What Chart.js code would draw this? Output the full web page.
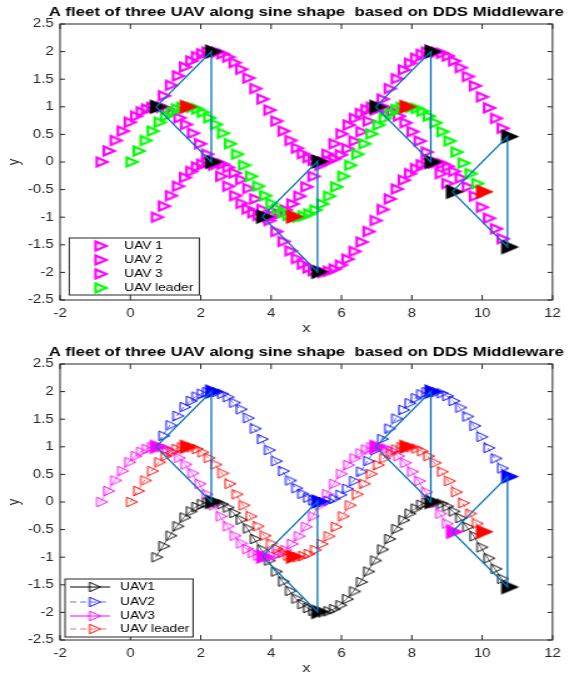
<!DOCTYPE html>
<html>
<head>
<meta charset="utf-8">
<script src="https://cdn.jsdelivr.net/npm/chart.js@4.4.1/dist/chart.umd.min.js"></script>
<style>
  html, body { margin: 0; padding: 0; background: #fff; overflow: hidden; }
  body { width: 569px; height: 673px; position: relative; }
  canvas { position: absolute; left: 0; transform: scaleX(1.2505); transform-origin: 0 0; }
  #topChart { top: 0; }
  #bottomChart { top: 340px; }
</style>
</head>
<body>
<canvas id="topChart" width="455" height="340"></canvas>
<canvas id="bottomChart" width="455" height="340"></canvas>
<script>
const titleText = 'A fleet of three UAV along sine shape  based on DDS Middleware';
const xTicks = [-2, 0, 2, 4, 6, 8, 10, 12];
const yTicks = [-2.5, -2, -1.5, -1, -0.5, 0, 0.5, 1, 1.5, 2, 2.5];
const topNames = ['UAV 1', 'UAV 2', 'UAV 3', 'UAV leader'];
const bottomNames = ['UAV1', 'UAV2', 'UAV3', 'UAV leader'];

// leader track
const leaderX = [0, 0.2, 0.4, 0.6, 0.8, 0.98, 1.14, 1.29, 1.44, 1.58,
  1.72, 1.87, 2.03, 2.21, 2.4, 2.6, 2.8, 3.0, 3.2, 3.4, 3.6, 3.8, 3.98, 4.15, 4.31, 4.46, 4.6,
  4.74, 4.89, 5.05, 5.23, 5.42, 5.62, 5.82, 6.02, 6.22, 6.42, 6.62, 6.82, 7.02, 7.2, 7.37, 7.53, 7.68, 7.82,
  7.96, 8.11, 8.27, 8.45, 8.64, 8.84, 9.04, 9.24, 9.44, 9.64, 9.83, 10.0];
const leaderY = [0, 0.20, 0.39, 0.56, 0.72, 0.83, 0.91, 0.96, 0.99, 1.00,
  0.99, 0.96, 0.90, 0.80, 0.68, 0.52, 0.33, 0.14, -0.06, -0.26, -0.44, -0.61, -0.75, -0.85, -0.92, -0.97, -0.99,
  -1.00, -0.98, -0.94, -0.87, -0.76, -0.62, -0.45, -0.26, -0.06, 0.14, 0.33, 0.51, 0.67, 0.79, 0.88, 0.95, 0.99, 1.00,
  0.99, 0.97, 0.92, 0.83, 0.71, 0.55, 0.38, 0.18, -0.02, -0.21, -0.39, -0.54];

// UAV1 and UAV2 fly at the same x
const uav12X = [0.72, 0.92, 1.12, 1.32, 1.52, 1.70, 1.86, 2.01, 2.16, 2.30,
  2.44, 2.59, 2.75, 2.93, 3.12, 3.32, 3.52, 3.72, 3.92, 4.12, 4.32, 4.52, 4.70, 4.87, 5.03, 5.18, 5.32,
  5.46, 5.61, 5.77, 5.95, 6.14, 6.34, 6.54, 6.74, 6.94, 7.14, 7.34, 7.54, 7.74, 7.92, 8.09, 8.25, 8.40, 8.54,
  8.68, 8.83, 8.99, 9.17, 9.36, 9.56, 9.76, 9.96, 10.16, 10.36, 10.55, 10.72];
const uav1Y = [-1.00, -0.80, -0.61, -0.44, -0.28, -0.17, -0.09, -0.04, -0.01, 0.00,
  -0.01, -0.04, -0.10, -0.20, -0.32, -0.48, -0.67, -0.86, -1.06, -1.26, -1.44, -1.61, -1.75, -1.85, -1.92, -1.97, -1.99,
  -2.00, -1.98, -1.94, -1.87, -1.76, -1.62, -1.45, -1.26, -1.06, -0.86, -0.67, -0.49, -0.33, -0.21, -0.12, -0.05, -0.01, 0.00,
  -0.01, -0.03, -0.08, -0.17, -0.29, -0.45, -0.62, -0.82, -1.02, -1.21, -1.39, -1.54];
const uav2Y = [1.00, 1.20, 1.39, 1.56, 1.72, 1.83, 1.91, 1.96, 1.99, 2.00,
  1.99, 1.96, 1.90, 1.80, 1.68, 1.52, 1.33, 1.14, 0.94, 0.74, 0.56, 0.39, 0.25, 0.15, 0.08, 0.03, 0.01,
  0.00, 0.02, 0.06, 0.13, 0.24, 0.38, 0.55, 0.74, 0.94, 1.14, 1.33, 1.51, 1.67, 1.79, 1.88, 1.95, 1.99, 2.00,
  1.99, 1.97, 1.92, 1.83, 1.71, 1.55, 1.38, 1.18, 0.98, 0.79, 0.61, 0.46];
const uav3X = [-0.85, -0.65, -0.45, -0.25, -0.05, 0.13, 0.29, 0.44, 0.59, 0.73,
  0.87, 1.02, 1.18, 1.36, 1.55, 1.75, 1.95, 2.15, 2.35, 2.55, 2.75, 2.95, 3.13, 3.30, 3.46, 3.61, 3.75,
  3.89, 4.04, 4.20, 4.38, 4.57, 4.77, 4.97, 5.17, 5.37, 5.57, 5.77, 5.97, 6.17, 6.35, 6.52, 6.68, 6.83, 6.97,
  7.11, 7.26, 7.42, 7.60, 7.79, 7.99, 8.19, 8.39, 8.59, 8.79, 8.98, 9.15];
const uav3Y = leaderY; // same heights as the leader, shifted back

// formation snapshots (big filled markers + triangle)
const snapLeaderX = [1.58, 4.6, 7.82, 10.0];
const snapLeaderY = [1.00, -0.99, 1.00, -0.54];
const snapUavX = [2.30, 5.32, 8.54, 10.72];
const snapUav1Y = [0.00, -1.99, 0.00, -1.54];
const snapUav2Y = [2.00, 0.01, 2.00, 0.46];
const snapUav3X = [0.73, 3.75, 6.97, 9.15];
const snapUav3Y = [1.00, -0.99, 1.00, -0.54];

const FONT = "'Liberation Sans', Arial, Helvetica, sans-serif";
const MAG = '#ff00ff', GRN = '#00ff00', BLU = '#0000ff', RED = '#ff0000', BLK = '#000000', LINE = '#0072bd';
const AXIS = '#262626';

function pts(xs, ys) {
  return xs.map((x, i) => ({ x: x, y: ys[i] }));
}

// right-pointing triangle marker, data point sits ~1/3 from the back edge
function tri(color, filled, w, h, lw) {
  const back = w * 0.35, front = w * 0.65, m = 5;
  const c = document.createElement('canvas');
  c.width = Math.ceil(2 * (front + lw + m));
  c.height = Math.ceil(h + 2 * (lw + m));
  const g = c.getContext('2d');
  const cx = c.width / 2, cy = c.height / 2;
  g.beginPath();
  g.moveTo(cx - back, cy - h / 2);
  g.lineTo(cx + front, cy);
  g.lineTo(cx - back, cy + h / 2);
  g.closePath();
  if (filled) {
    g.fillStyle = color;
    g.fill();
  } else {
    g.strokeStyle = color;
    g.lineWidth = lw;
    g.lineJoin = 'miter';
    g.stroke();
  }
  return c;
}

const thickMag = tri(MAG, false, 8.5, 9, 2.2);
const thickGrn = tri(GRN, false, 8.5, 9, 2.2);
const thinBlk = tri(BLK, false, 8.6, 9.5, 1);
const thinBlu = tri(BLU, false, 8.6, 9.5, 1);
const thinMag = tri(MAG, false, 8.6, 9.5, 1);
const thinRed = tri(RED, false, 8.6, 9.5, 1);
const bigBlk = tri(BLK, true, 14.4, 15, 0);
const bigRed = tri(RED, true, 14.4, 15, 0);
const bigBlu = tri(BLU, true, 14.4, 15, 0);
const bigMag = tri(MAG, true, 14.4, 15, 0);

function formation() {
  return snapUavX.map((_, i) => ({
    data: pts([snapUav3X[i], snapUavX[i], snapUavX[i], snapUav3X[i]],
              [snapUav3Y[i], snapUav2Y[i], snapUav1Y[i], snapUav3Y[i]]),
    showLine: true, borderColor: LINE, borderWidth: 1.3, pointRadius: 0
  }));
}

function marks(xs, ys, img, extra) {
  return Object.assign({ data: pts(xs, ys), pointStyle: img, pointRadius: 5, showLine: false }, extra || {});
}

function scales() {
  const tickFont = { family: FONT, size: 12 };
  return {
    x: {
      type: 'linear', min: -2, max: 12,
      afterBuildTicks: s => { s.ticks = xTicks.map(v => ({ value: v })); },
      afterFit: s => { s.height = 40; },
      grid: { display: false, drawTicks: false },
      border: { display: false },
      ticks: { font: tickFont, color: AXIS, padding: 6.5, maxRotation: 0, autoSkip: false, callback: v => String(v) },
      title: { display: true, text: 'x', font: { family: FONT, size: 13 }, color: AXIS, padding: { top: 0, bottom: 4.2 } }
    },
    y: {
      type: 'linear', min: -2.5, max: 2.5,
      afterBuildTicks: s => { s.ticks = yTicks.map(v => ({ value: v })); },
      afterFit: s => { s.width = 48; },
      grid: { display: false, drawTicks: false },
      border: { display: false },
      ticks: { font: tickFont, color: AXIS, padding: 5, autoSkip: false, callback: v => String(v) },
      title: { display: true, text: 'y', font: { family: FONT, size: 13 }, color: AXIS, padding: { top: 3.4, bottom: 0 } }
    }
  };
}

// matlab style box with inward ticks
const frame = {
  id: 'frame',
  afterDatasetsDraw(chart) {
    const { ctx, chartArea: a, scales: { x, y } } = chart;
    ctx.save();
    ctx.strokeStyle = AXIS;
    ctx.lineWidth = 1;
    ctx.strokeRect(a.left, a.top, a.right - a.left, a.bottom - a.top);
    ctx.beginPath();
    xTicks.forEach(v => {
      const px = x.getPixelForValue(v);
      ctx.moveTo(px, a.bottom); ctx.lineTo(px, a.bottom - 5);
      ctx.moveTo(px, a.top); ctx.lineTo(px, a.top + 5);
    });
    yTicks.forEach(v => {
      const py = y.getPixelForValue(v);
      ctx.moveTo(a.left, py); ctx.lineTo(a.left + 4, py);
      ctx.moveTo(a.right, py); ctx.lineTo(a.right - 4, py);
    });
    ctx.stroke();
    ctx.restore();
  }
};

function decor(opt) {
  return {
    id: 'decor',
    afterDraw(chart) {
      const { ctx, chartArea: a } = chart;
      ctx.save();
      ctx.fillStyle = '#000';
      ctx.font = 'bold 13.4px ' + FONT;
      ctx.textAlign = 'center';
      ctx.textBaseline = 'middle';
      ctx.fillText(titleText, (a.left + a.right) / 2, 12);

      const b = opt.box;
      ctx.fillStyle = '#fff';
      ctx.fillRect(b[0], b[1], b[2] - b[0], b[3] - b[1]);
      ctx.strokeStyle = AXIS;
      ctx.lineWidth = 1;
      ctx.strokeRect(b[0], b[1], b[2] - b[0], b[3] - b[1]);

      ctx.font = '11px ' + FONT;
      ctx.textAlign = 'left';
      opt.names.forEach((name, i) => {
        const ry = opt.rows[i];
        if (opt.lineX) {
          ctx.strokeStyle = opt.colors[i];
          ctx.lineWidth = 1;
          ctx.setLineDash(opt.dashes[i]);
          ctx.beginPath();
          ctx.moveTo(opt.lineX[0], ry);
          ctx.lineTo(opt.lineX[1], ry);
          ctx.stroke();
          ctx.setLineDash([]);
        }
        const img = opt.imgs[i];
        ctx.drawImage(img, opt.markerX - img.width / 2, ry - img.height / 2);
        ctx.fillStyle = '#000';
        ctx.fillText(name, opt.textX, ry);
      });
      ctx.restore();
    }
  };
}

const common = {
  responsive: false,
  devicePixelRatio: 1,
  animation: false,
  events: [],
  layout: { padding: { left: 0, right: 10.4, top: 24, bottom: 0 } },
  plugins: { legend: { display: false }, tooltip: { enabled: false }, title: { display: false } }
};

new Chart(document.getElementById('topChart'), {
  type: 'scatter',
  data: {
    datasets: [
      ...formation(),
      marks(snapLeaderX, snapLeaderY, bigRed),
      marks(snapUav3X, snapUav3Y, bigBlk),
      marks(snapUavX, snapUav2Y, bigBlk),
      marks(snapUavX, snapUav1Y, bigBlk),
      marks(leaderX, leaderY, thickGrn),
      marks(uav3X, uav3Y, thickMag),
      marks(uav12X, uav2Y, thickMag),
      marks(uav12X, uav1Y, thickMag)
    ]
  },
  options: Object.assign({}, common, { scales: scales() }),
  plugins: [frame, decor({
    names: topNames,
    imgs: [thickMag, thickMag, thickMag, thickGrn],
    box: [55.4, 238, 159.4, 295],
    rows: [246, 260, 274, 288],
    markerX: 79.4, textX: 99.2
  })]
});

new Chart(document.getElementById('bottomChart'), {
  type: 'scatter',
  data: {
    datasets: [
      ...formation(),
      marks(snapLeaderX, snapLeaderY, bigRed),
      marks(snapUav3X, snapUav3Y, bigMag),
      marks(snapUavX, snapUav2Y, bigBlu),
      marks(snapUavX, snapUav1Y, bigBlk),
      marks(leaderX, leaderY, thinRed, { showLine: true, borderColor: RED, borderWidth: 0.6, borderDash: [4, 3] }),
      marks(uav3X, uav3Y, thinMag, { showLine: true, borderColor: MAG, borderWidth: 0.6 }),
      marks(uav12X, uav2Y, thinBlu, { showLine: true, borderColor: BLU, borderWidth: 0.6, borderDash: [4, 3] }),
      marks(uav12X, uav1Y, thinBlk, { showLine: true, borderColor: BLK, borderWidth: 0.6 })
    ]
  },
  options: Object.assign({}, common, { scales: scales() }),
  plugins: [frame, decor({
    names: bottomNames,
    imgs: [thinBlk, thinBlu, thinMag, thinRed],
    colors: [BLK, '#6a6aff', MAG, '#ff7070'],
    dashes: [[], [5, 3], [], [5, 3]],
    box: [52, 239, 154.4, 297],
    rows: [247, 262, 276, 289],
    lineX: [56, 88],
    markerX: 74.6, textX: 96
  })]
});
</script>
</body>
</html>
